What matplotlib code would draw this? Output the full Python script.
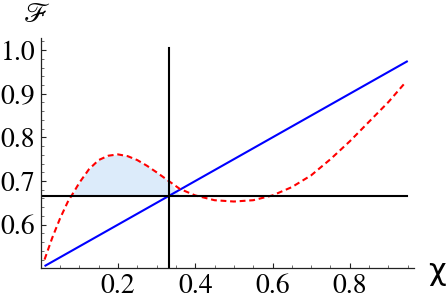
import matplotlib
matplotlib.use("Agg")
import matplotlib.pyplot as plt
import numpy as np
from matplotlib.ticker import MultipleLocator

# red dashed curve
red_x = [0.01, 0.02, 0.03, 0.05, 0.07, 0.09, 0.10, 0.125, 0.15, 0.175, 0.20,
         0.225, 0.25, 0.275, 0.30, 0.333, 0.36, 0.40, 0.45, 0.50, 0.55, 0.60,
         0.65, 0.70, 0.75, 0.80, 0.85, 0.90, 0.945]
red_y = [0.520, 0.545, 0.570, 0.614, 0.652, 0.681, 0.696, 0.727, 0.748, 0.758, 0.761,
         0.757, 0.748, 0.735, 0.720, 0.699, 0.682, 0.667, 0.656, 0.653, 0.656, 0.667,
         0.686, 0.713, 0.750, 0.791, 0.836, 0.881, 0.927]

# blue straight line
blue_x = [0.01, 0.95]
blue_y = [0.505, 0.975]

# black reference lines
h_level = 2 / 3
h_x = [0.0, 0.948]
v_pos = 1 / 3
v_y = [0.5, 1.004]

x_ticks = [0.2, 0.4, 0.6, 0.8]
y_ticks = [0.6, 0.7, 0.8, 0.9, 1.0]

plt.rcParams['font.family'] = ['STIXGeneral', 'Liberation Serif', 'DejaVu Sans']

fig = plt.figure(figsize=(4.47, 3.0), dpi=100)
ax = fig.add_axes([0.091, 0.1057, 0.835, 0.768])

rx = np.array(red_x)
ry = np.array(red_y)
ax.fill_between(rx, h_level, ry, where=(ry >= h_level) & (rx <= v_pos + 0.001),
                interpolate=True, color='#dcebfa', linewidth=0)

ax.plot(blue_x, blue_y, color='#0000ff', lw=1.5, solid_capstyle='butt')
ax.plot(red_x, red_y, color='#ff0000', lw=1.5, dashes=(2.8, 1.8))
ax.plot(h_x, [h_level, h_level], color='black', lw=1.5)
ax.plot([v_pos, v_pos], v_y, color='black', lw=1.5)

ax.set_xlim(0, 0.966)
ax.set_ylim(0.5, 1.028)
for s in ['top', 'right']:
    ax.spines[s].set_visible(False)
for s in ['left', 'bottom']:
    ax.spines[s].set_color('#222222')
    ax.spines[s].set_linewidth(0.9)

ax.set_xticks(x_ticks)
ax.set_xticklabels([f"{t:.1f}" for t in x_ticks])
ax.set_yticks(y_ticks)
ax.set_yticklabels([f"{t:.1f}" for t in y_ticks])
ax.xaxis.set_minor_locator(MultipleLocator(0.05))
ax.yaxis.set_minor_locator(MultipleLocator(0.02))
ax.tick_params(which='major', direction='in', length=3.5, width=0.8,
               labelsize=20, pad=4, color='#222222')
ax.tick_params(which='minor', direction='in', length=2, width=0.6, color='#555555')

fig.text(37 / 447, 1 - 15 / 300, "ℱ", fontsize=20, ha='center', va='center',
         family=['STIXGeneral', 'DejaVu Sans'])
fig.text(437 / 447, 1 - 272 / 300, "χ", fontsize=22, ha='center', va='center',
         family=['DejaVu Sans'])

fig.savefig("out.png", dpi=100)
